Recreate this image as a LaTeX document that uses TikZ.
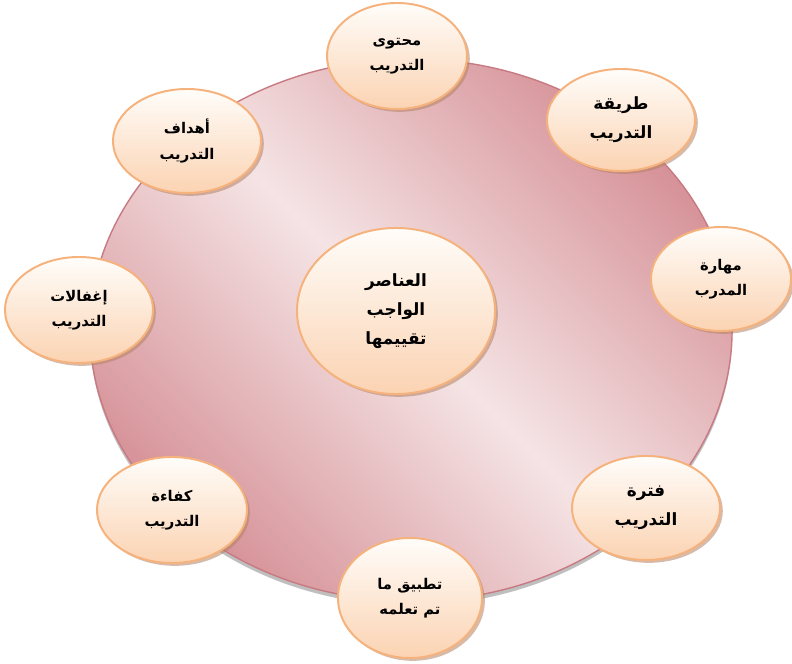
\documentclass[tikz,border=0pt]{standalone}
\usepackage{fontspec}
\newfontfamily\arabicfont[Script=Arabic]{DejaVu Sans}
\TeXXeTstate=1
\usetikzlibrary{shapes.geometric,shadows}
\definecolor{rosedark}{RGB}{214,146,152}
\definecolor{roselight}{RGB}{245,228,229}
\definecolor{roseedge}{RGB}{200,122,130}
\definecolor{bubbletop}{RGB}{255,253,250}
\definecolor{bubblebot}{RGB}{251,211,178}
\definecolor{bubbleedge}{RGB}{246,178,124}
\definecolor{bubbleshade}{RGB}{180,130,100}
\newcommand{\rl}[1]{\beginR#1\endR}
\tikzset{
  bubble/.style={ellipse, draw=bubbleedge, line width=1.4pt, inner sep=0pt,
    top color=bubbletop, bottom color=bubblebot, align=center,
    drop shadow={shadow xshift=2pt, shadow yshift=-2pt, fill=bubbleshade, opacity=.55},
    font=\arabicfont\bfseries\fontsize{10.5}{18}\selectfont},
  bigtext/.style={font=\arabicfont\bfseries\fontsize{12}{20.5}\selectfont}
}
\begin{document}
\begin{tikzpicture}[x=0.025cm,y=-0.025cm]
    \useasboundingbox (0,0) rectangle (792,664);
    % Ring %
    \node[ellipse, minimum width=16.05cm, minimum height=13.55cm, draw=roseedge, line width=1pt,
          left color=rosedark, right color=rosedark, middle color=roselight, shading angle=135,
          drop shadow={shadow xshift=0pt, shadow yshift=-3pt, fill=black, opacity=.25}]
          (ring) at (411,330) {};

    % Bubbles %
    \node[bubble, minimum width=3.5cm, minimum height=2.65cm] (muhtawa) at (397,56) {\rl{محتوى}\\\rl{التدريب}};
    \node[bubble, bigtext, minimum width=3.7cm, minimum height=2.55cm] (tariqa) at (621,120) {\rl{طريقة}\\\rl{التدريب}};
    \node[bubble, minimum width=3.5cm, minimum height=2.6cm] (mahara) at (721,279) {\rl{مهارة}\\\rl{المدرب}};
    \node[bubble, bigtext, minimum width=3.7cm, minimum height=2.6cm] (fatra) at (646,508) {\rl{فترة}\\\rl{التدريب}};
    \node[bubble, minimum width=3.6cm, minimum height=3cm] (tatbiq) at (410,598) {\rl{تطبيق ما}\\\rl{تم تعلمه}};
    \node[bubble, minimum width=3.75cm, minimum height=2.65cm] (kafaa) at (172,510) {\rl{كفاءة}\\\rl{التدريب}};
    \node[bubble, minimum width=3.7cm, minimum height=2.65cm] (ighfal) at (79,310) {\rl{إغفالات}\\\rl{التدريب}};
    \node[bubble, minimum width=3.7cm, minimum height=2.6cm] (ahdaf) at (187,141) {\rl{أهداف}\\\rl{التدريب}};

    % Centre %
    \node[bubble, bigtext, minimum width=4.95cm, minimum height=4.15cm] (anasir) at (396,311)
          {\rl{العناصر}\\\rl{الواجب}\\\rl{تقييمها}};
\end{tikzpicture}
\end{document}
